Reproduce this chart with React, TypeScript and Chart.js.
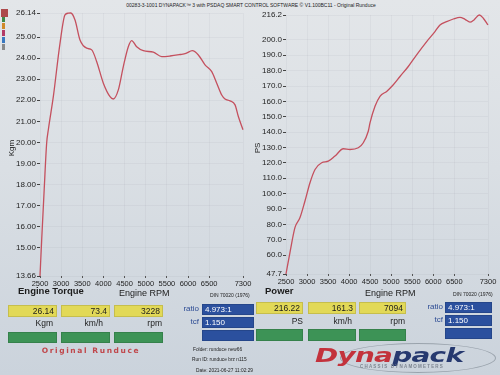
import React, { useEffect, useRef } from "react";
import { Chart, registerables } from "chart.js";
Chart.register(...registerables);

const rpmTicks = [2500, 3000, 3500, 4000, 4500, 5000, 5500, 6000, 6500, 7300];
const torqueTicks = [13.66, 15, 16, 17, 18, 19, 20, 21, 22, 23, 24, 25, 26.14];
const powerTicks = [47.7, 60, 70, 80, 90, 100, 110, 120, 130, 140, 150, 160, 170, 180, 190, 200, 216.2];

const torqueRpm = [2500, 2540, 2600, 2658, 2697, 2815, 2973, 3091, 3170, 3228, 3328, 3446, 3604, 3723, 3841, 3998, 4156, 4234, 4352, 4470, 4588, 4667, 4786, 4943, 5180, 5378, 5575, 5811, 5950, 6100, 6244, 6402, 6561, 6679, 6797, 6875, 6993, 7112, 7190, 7300];
const torqueKgm = [13.66, 15.38, 17.8, 19.98, 20.6, 22.17, 24.7, 26.05, 26.13, 26.14, 25.81, 24.86, 24.47, 24.39, 23.83, 22.81, 22.17, 22.06, 22.49, 23.6, 24.54, 24.83, 24.54, 24.35, 24.28, 24.07, 24.1, 24.17, 24.22, 24.35, 24.15, 23.68, 23.36, 22.81, 22.25, 22.06, 21.97, 21.78, 21.23, 20.6];

const powerRpm = [2500, 2595, 2714, 2833, 2951, 3070, 3190, 3348, 3506, 3664, 3862, 4020, 4218, 4337, 4455, 4496, 4615, 4733, 4892, 5050, 5209, 5406, 5604, 5843, 6040, 6159, 6317, 6475, 6634, 6753, 6872, 6967, 7094, 7188, 7300];
const powerPS = [47.7, 61.8, 78.0, 84.4, 95.2, 107.1, 115.7, 120.1, 121.1, 124.4, 129.2, 128.7, 129.8, 133.1, 140.6, 146.0, 156.8, 163.3, 166.5, 170.8, 176.2, 182.7, 190.3, 198.9, 205.4, 209.7, 211.9, 213.6, 214.7, 213.4, 211.5, 213.0, 216.2, 214.1, 209.7];

const FONT = "'Liberation Sans', Arial, sans-serif";

type Area = { left: number; right: number; top: number; bottom: number; w: number; h: number };

function makeChart(canvas: HTMLCanvasElement, xs: number[], ys: number[], yTicks: number[], dec: number, a: Area) {
  const pts = xs.map((x, i) => ({ x, y: ys[i] }));
  return new Chart(canvas, {
    type: "line",
    data: {
      datasets: [
        {
          data: pts,
          borderColor: "#c4505e",
          borderWidth: 1.3,
          pointRadius: 0,
          cubicInterpolationMode: "monotone",
          clip: 6,
        } as any,
      ],
    },
    options: {
      responsive: false,
      animation: false,
      events: [],
      layout: { padding: { left: 0, top: a.top, right: a.w - a.right, bottom: 0 } },
      plugins: { legend: { display: false }, tooltip: { enabled: false } },
      scales: {
        x: {
          type: "linear",
          min: 2500,
          max: 7300,
          border: { display: false },
          grid: { color: "rgba(90,100,115,0.055)", tickColor: "#555", tickLength: 2 },
          ticks: {
            autoSkip: false,
            maxRotation: 0,
            padding: 1,
            color: "#1e1e1e",
            font: { family: FONT, size: 7.5 },
            callback: (v: any) => String(v),
          },
          afterBuildTicks: (s: any) => {
            s.ticks = rpmTicks.map((v) => ({ value: v }));
          },
          afterFit: (s: any) => {
            s.height = a.h - a.bottom;
            s.paddingLeft = 0;
            s.paddingRight = 0;
          },
        },
        y: {
          type: "linear",
          min: yTicks[0],
          max: yTicks[yTicks.length - 1],
          border: { display: false },
          grid: { color: "rgba(90,100,115,0.055)", tickColor: "#444", tickLength: 3 },
          ticks: {
            autoSkip: false,
            padding: 1,
            color: "#1e1e1e",
            font: { family: FONT, size: 8 },
            callback: (v: any) => Number(v).toFixed(dec),
          },
          afterBuildTicks: (s: any) => {
            s.ticks = yTicks.map((v) => ({ value: v }));
          },
          afterFit: (s: any) => {
            s.width = a.left;
            s.paddingTop = 0;
            s.paddingBottom = 0;
          },
        },
      },
    },
  });
}

function ChartCanvas(props: { x: number; y: number; area: Area; xs: number[]; ys: number[]; yTicks: number[]; dec: number }) {
  const ref = useRef<HTMLCanvasElement>(null);
  useEffect(() => {
    const c = makeChart(ref.current!, props.xs, props.ys, props.yTicks, props.dec, props.area);
    return () => c.destroy();
  }, []);
  return (
    <canvas
      ref={ref}
      width={props.area.w}
      height={props.area.h}
      style={{ position: "absolute", left: props.x, top: props.y, width: props.area.w, height: props.area.h }}
    />
  );
}

function T(p: { x: number; y: number; s: number; t: string; b?: boolean; c?: string; align?: "left" | "right" | "center"; w?: number; ls?: number; fam?: string }) {
  const w = p.w ?? 120;
  let left = p.x;
  if (p.align === "right") left = p.x - w;
  if (p.align === "center") left = p.x - w / 2;
  return (
    <div
      style={{
        position: "absolute",
        left,
        top: p.y - p.s * 0.6,
        width: w,
        height: p.s * 1.2,
        lineHeight: `${p.s * 1.2}px`,
        fontSize: p.s,
        fontFamily: p.fam ?? FONT,
        fontWeight: p.b ? 700 : 400,
        color: p.c ?? "#1c1c1c",
        textAlign: p.align ?? "left",
        whiteSpace: "nowrap",
        letterSpacing: p.ls ?? 0,
      }}
    >
      {p.t}
    </div>
  );
}

function Box(p: { x: number; y: number; w: number; h: number; bg: string; t?: string; c?: string; align?: "left" | "right"; s?: number }) {
  return (
    <div
      style={{
        position: "absolute",
        left: p.x,
        top: p.y,
        width: p.w,
        height: p.h,
        background: p.bg,
        boxSizing: "border-box",
        border: "1px solid rgba(0,0,0,0.12)",
        fontFamily: FONT,
        fontSize: p.s ?? 8.5,
        lineHeight: `${p.h - 2}px`,
        color: p.c ?? "#1c1c1c",
        textAlign: p.align ?? "right",
        padding: "0 2px",
        whiteSpace: "nowrap",
      }}
    >
      {p.t ?? ""}
    </div>
  );
}

const YEL = "#e2d957";
const GRN = "#3d9356";
const BLU = "#2b509e";
const BLUT = "#2d4c94";

export default function App() {
  const leftArea: Area = { left: 40, right: 243, top: 13, bottom: 276, w: 256, h: 292 };
  const rightArea: Area = { left: 36, right: 238, top: 15, bottom: 274, w: 250, h: 292 };
  return (
    <div
      style={{
        position: "absolute",
        left: 0,
        top: 0,
        width: 500,
        height: 375,
        overflow: "hidden",
        background: "linear-gradient(to bottom, #e3e6e9 0%, #dadfe4 45%, #cbd3dc 100%)",
      }}
    >
      {/* legend color markers */}
      <div style={{ position: "absolute", left: 1, top: 9, width: 7, height: 8, background: "#ad4a4c" }} />
      <div style={{ position: "absolute", left: 2, top: 17, width: 2.5, height: 5, background: "#3e8a4a" }} />
      <div style={{ position: "absolute", left: 2, top: 23, width: 2.5, height: 6, background: "#d08a2a" }} />
      <div style={{ position: "absolute", left: 2, top: 30, width: 2.5, height: 6, background: "#b33a66" }} />
      <div style={{ position: "absolute", left: 2, top: 37, width: 2.5, height: 6, background: "#3a78c0" }} />
      <div style={{ position: "absolute", left: 2, top: 44, width: 2.5, height: 6, background: "#8a8a8a" }} />

      <T x={251} y={4.5} s={5} w={300} align="center" t="00283-3-1001 DYNAPACK™ 3 with PSDAQ SMART CONTROL SOFTWARE © V1.100BC11 - Original Runduce" />

      <ChartCanvas x={0} y={0} area={leftArea} xs={torqueRpm} ys={torqueKgm} yTicks={torqueTicks} dec={2} />
      <ChartCanvas x={250} y={0} area={rightArea} xs={powerRpm} ys={powerPS} yTicks={powerTicks} dec={1} />

      <div style={{ position: "absolute", left: 11, top: 148, transform: "translate(-50%,-50%) rotate(-90deg)", fontFamily: FONT, fontSize: 8, color: "#1c1c1c" }}>Kgm</div>
      <div style={{ position: "absolute", left: 257, top: 148, transform: "translate(-50%,-50%) rotate(-90deg)", fontFamily: FONT, fontSize: 8, color: "#1c1c1c" }}>PS</div>

      {/* left panel */}
      <T x={18} y={291} s={9.5} b t="Engine Torque" />
      <T x={119} y={293} s={9} t="Engine RPM" />
      <T x={210} y={295} s={5} t="DIN 70020 (1976)" />
      <Box x={8} y={305} w={49} h={12} bg={YEL} t="26.14" />
      <Box x={61} y={305} w={49} h={12} bg={YEL} t="73.4" />
      <Box x={114} y={305} w={49} h={12} bg={YEL} t="3228" />
      <T x={53} y={323} s={8.5} align="right" w={40} t="Kgm" />
      <T x={103} y={323} s={8.5} align="right" w={40} t="km/h" />
      <T x={162} y={323} s={8.5} align="right" w={40} t="rpm" />
      <Box x={8} y={332} w={49} h={11} bg={GRN} />
      <Box x={61} y={332} w={49} h={11} bg={GRN} />
      <Box x={114} y={332} w={49} h={11} bg={GRN} />
      <T x={91} y={350} s={7.5} b align="center" w={130} ls={1.6} c="#c0474b" fam="'DejaVu Sans', sans-serif" t="Original Runduce" />
      <T x={199} y={309} s={8} align="right" w={30} c={BLUT} t="ratio" />
      <Box x={202} y={304} w={52} h={11} bg={BLU} c="#fff" align="left" s={8} t="4.973:1" />
      <T x={199} y={322} s={8} align="right" w={30} c={BLUT} t="tcf" />
      <Box x={202} y={317} w={52} h={11} bg={BLU} c="#fff" align="left" s={8} t="1.150" />
      <Box x={202} y={330} w={52} h={11} bg={BLU} />
      <T x={193} y={350} s={4.8} t="Folder: runduce new66" />
      <T x={192} y={360} s={4.8} t="Run ID: runduce brz n115" />
      <T x={196} y={371} s={4.8} t="Date: 2021-06-27 11:02:29" />

      {/* right panel */}
      <T x={265} y={291} s={9.5} b t="Power" />
      <T x={365} y={293} s={9} t="Engine RPM" />
      <T x={453} y={294} s={5} t="DIN 70020 (1976)" />
      <Box x={256} y={302} w={47} h={12} bg={YEL} t="216.22" />
      <Box x={308} y={302} w={48} h={12} bg={YEL} t="161.3" />
      <Box x={359} y={302} w={47} h={12} bg={YEL} t="7094" />
      <T x={303} y={321} s={8.5} align="right" w={40} t="PS" />
      <T x={352} y={321} s={8.5} align="right" w={40} t="km/h" />
      <T x={405} y={321} s={8.5} align="right" w={40} t="rpm" />
      <Box x={256} y={329} w={47} h={12} bg={GRN} />
      <Box x={308} y={329} w={48} h={12} bg={GRN} />
      <Box x={359} y={329} w={47} h={12} bg={GRN} />
      <T x={443} y={307} s={8} align="right" w={30} c={BLUT} t="ratio" />
      <Box x={445} y={302} w={47} h={11} bg={BLU} c="#fff" align="left" s={8} t="4.973:1" />
      <T x={443} y={320} s={8} align="right" w={30} c={BLUT} t="tcf" />
      <Box x={445} y={315} w={47} h={11} bg={BLU} c="#fff" align="left" s={8} t="1.150" />
      <Box x={445} y={328} w={47} h={11} bg={BLU} />

      {/* Dynapack logo */}
      <div style={{ position: "absolute", left: 340, top: 343, width: 156, height: 30, borderRadius: "50%", border: "1px solid rgba(120,130,140,0.6)", boxSizing: "border-box" }} />
      <div
        style={{
          position: "absolute",
          left: 315,
          top: 345,
          fontFamily: "'DejaVu Sans', sans-serif",
          fontWeight: 700,
          fontStyle: "italic",
          fontSize: 19,
          lineHeight: "20px",
          whiteSpace: "nowrap",
          transform: "scaleX(1.47)",
          transformOrigin: "left top",
          letterSpacing: -0.5,
        }}
      >
        <span style={{ color: "#c3323c" }}>Dyna</span>
        <span style={{ color: "#26396f" }}>pack</span>
      </div>
      <T x={402} y={366.5} s={4.5} align="center" w={100} ls={1.2} b c="#7d8590" t="CHASSIS DYNAMOMETERS" />
    </div>
  );
}
